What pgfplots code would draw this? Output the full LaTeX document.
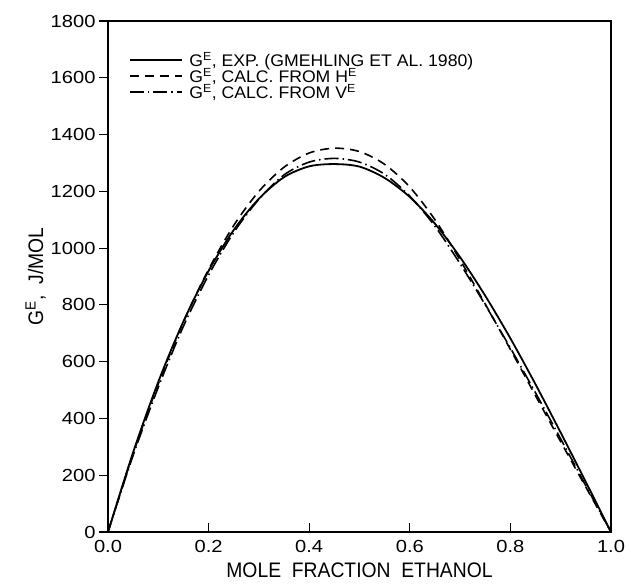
\documentclass[border=0pt]{standalone}
\usepackage{pgfplots}
\pgfplotsset{compat=1.18}
\usepackage{fontspec}
\setmainfont{Liberation Sans}[FakeStretch=1.05]
\newfontfamily\tickfont{Liberation Sans}[FakeStretch=1.15]
\newfontfamily\narrowfont{Liberation Sans}[FakeStretch=0.92]
\begin{document}
\begin{tikzpicture}
\begin{axis}[
  name=ax,
  scale only axis,
  width=503pt, height=511pt,
  xmin=0, xmax=1, ymin=0, ymax=1800,
  xtick={0,0.2,0.4,0.6,0.8,1.0},
  ytick={0,200,...,1800},
  xticklabel style={yshift=-5pt,/pgf/number format/.cd,fixed,fixed zerofill,precision=1},
  yticklabel style={/pgf/number format/.cd,1000 sep={}},
  /pgf/number format/assume math mode=true,
  tick pos=left,
  xtick align=inside, ytick align=outside,
  major tick length=9pt,
  tick style={line width=1.2pt, black},
  axis line style={line width=1.6pt},
  tick label style={font=\tickfont\fontsize{17.5}{17.5}\selectfont},
  xlabel={MOLE\ \ FRACTION\ \ ETHANOL},
  ylabel={G\textsuperscript{E},\ \ J/MOL},
  label style={font=\narrowfont\fontsize{21}{21}\selectfont},
  xlabel style={yshift=-3pt},
  ylabel style={yshift=-2pt},
  legend style={at={(0.035,0.945)}, anchor=north west, draw=none, fill=none,
    font=\fontsize{16.8}{14}\selectfont, row sep=-2pt, column sep=6pt,
    nodes={inner sep=1pt}},
  legend cell align=left,
  legend image post style={line width=1.6pt},
  legend image code/.code={\draw[#1] (0pt,0pt) -- (52pt,0pt);},
]
\addplot[black, line width=1.8pt, smooth] coordinates {
(0,0) (0.05,281) (0.1,529) (0.15,742) (0.2,920) (0.25,1064) (0.3,1174)
(0.35,1250) (0.4,1288) (0.45,1296) (0.5,1287) (0.55,1247) (0.6,1180)
(0.65,1086) (0.7,968) (0.75,832) (0.8,682) (0.85,520) (0.9,350) (0.95,176) (1,0)};
\addlegendentry{G\textsuperscript{E}, EXP. (GMEHLING ET AL. 1980)}
\addplot[black, line width=1.6pt, smooth, dash pattern=on 9pt off 6pt] coordinates {
(0,0) (0.05,276) (0.1,522) (0.15,740) (0.2,925) (0.25,1080) (0.3,1200)
(0.35,1285) (0.4,1335) (0.45,1352) (0.5,1340) (0.55,1295) (0.6,1215)
(0.65,1100) (0.7,958) (0.75,803) (0.8,643) (0.85,480) (0.9,318) (0.95,158) (1,0)};
\addlegendentry{G\textsuperscript{E}, CALC. FROM H\textsuperscript{E}}
\addplot[black, line width=1.6pt, smooth, dash pattern=on 14pt off 4pt on 1.5pt off 4pt] coordinates {
(0,0) (0.05,270) (0.1,510) (0.15,725) (0.2,905) (0.25,1055) (0.3,1172)
(0.35,1258) (0.4,1303) (0.45,1316) (0.5,1303) (0.55,1260) (0.6,1183)
(0.65,1077) (0.7,945) (0.75,800) (0.8,648) (0.85,490) (0.9,328) (0.95,163) (1,0)};
\addlegendentry{G\textsuperscript{E}, CALC. FROM V\textsuperscript{E}}
\end{axis}
\path ([xshift=-108pt,yshift=-54pt]ax.south west) rectangle ([xshift=20pt,yshift=21pt]ax.north east);
\end{tikzpicture}
\end{document}
